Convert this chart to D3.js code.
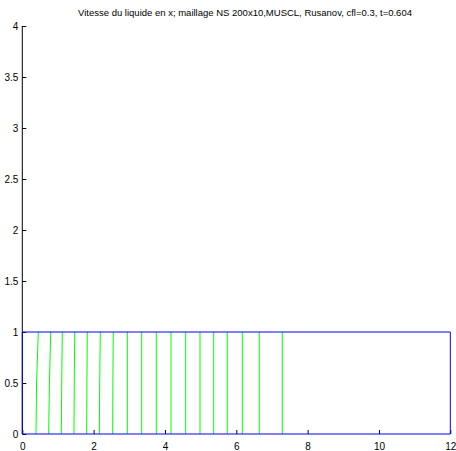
<!DOCTYPE html>
<html><head><meta charset="utf-8">
<script src="https://cdn.jsdelivr.net/npm/d3@7"></script>
<style>body{margin:0;background:#fff}svg{display:block}</style>
</head><body>
<script>
const title = "Vitesse du liquide en x; maillage NS 200x10,MUSCL, Rusanov, cfl=0.3, t=0.604";
const xTicks = [0, 2, 4, 6, 8, 10, 12];
const yTicks = [0, 0.5, 1, 1.5, 2, 2.5, 3, 3.5, 4];
// domain outline (blue)
const boxX = [0, 12, 12, 0, 0];
const boxY = [0, 0, 1, 1, 0];
// green profile lines: x at y=0, y=0.5, y=1
const profBottom = [0.384, 0.740, 1.093, 1.449, 1.805, 2.159, 2.534, 2.944, 3.347, 3.757, 4.169, 4.581, 4.982, 5.366, 5.747, 6.168, 6.644, 7.289];
const profMid    = [0.400, 0.760, 1.105, 1.457, 1.812, 2.170, 2.540, 2.944, 3.347, 3.757, 4.169, 4.581, 4.982, 5.366, 5.747, 6.168, 6.644, 7.289];
const profTop    = [0.449, 0.796, 1.121, 1.469, 1.822, 2.187, 2.551, 2.944, 3.347, 3.757, 4.169, 4.581, 4.982, 5.366, 5.747, 6.168, 6.644, 7.289];
const profY = [0, 0.5, 1];

const W = 456, H = 451;
const m = {left: 22.3, right: 456 - 450.3, top: 26, bottom: 451 - 434};
const svg = d3.select("body").append("svg").attr("width", W).attr("height", H)
  .style("font-family", "'Liberation Sans', Arial, sans-serif");
const x = d3.scaleLinear().domain([0, 12]).range([m.left, W - m.right]);
const y = d3.scaleLinear().domain([0, 4]).range([H - m.bottom, m.top]);

svg.append("text").attr("x", 245).attr("y", 16).attr("text-anchor", "middle")
  .style("font-size", "9.5px").attr("fill", "#000").text(title);

// y axis (ticks inward)
const ya = svg.append("g").attr("transform", `translate(${x(0)},0)`)
  .call(d3.axisRight(y).tickValues(yTicks).tickSize(4).tickFormat(d3.format("")));
ya.select(".domain").remove();
ya.selectAll("text").attr("x", -4).attr("text-anchor", "end").style("font-size", "10px").attr("fill", "#000");
ya.selectAll("line").attr("stroke", "#000");
svg.append("line").attr("x1", x(0)).attr("x2", x(0)).attr("y1", y(4)).attr("y2", y(0)).attr("stroke", "#000");

// x axis
const xa = svg.append("g").attr("transform", `translate(0,${y(0)})`)
  .call(d3.axisTop(x).tickValues(xTicks).tickSize(4).tickFormat(d3.format("")));
xa.select(".domain").remove();
xa.selectAll("line").attr("stroke", "#000");
xa.selectAll("text").attr("y", 16).attr("dy", "0").style("font-size", "10px").attr("fill", "#000");

// green profiles
const line = d3.line().x(d => x(d[0])).y(d => y(d[1]));
profBottom.forEach((b, i) => {
  const pts = [[b, profY[0]], [profMid[i], profY[1]], [profTop[i], profY[2]]];
  svg.append("path").attr("d", line(pts)).attr("fill", "none").attr("stroke", "#00ff00").attr("stroke-width", 1);
});

// blue outline
svg.append("path").attr("d", line(boxX.map((v, i) => [v, boxY[i]])))
  .attr("fill", "none").attr("stroke", "#0000ff").attr("stroke-width", 1);
</script>
</body></html>
